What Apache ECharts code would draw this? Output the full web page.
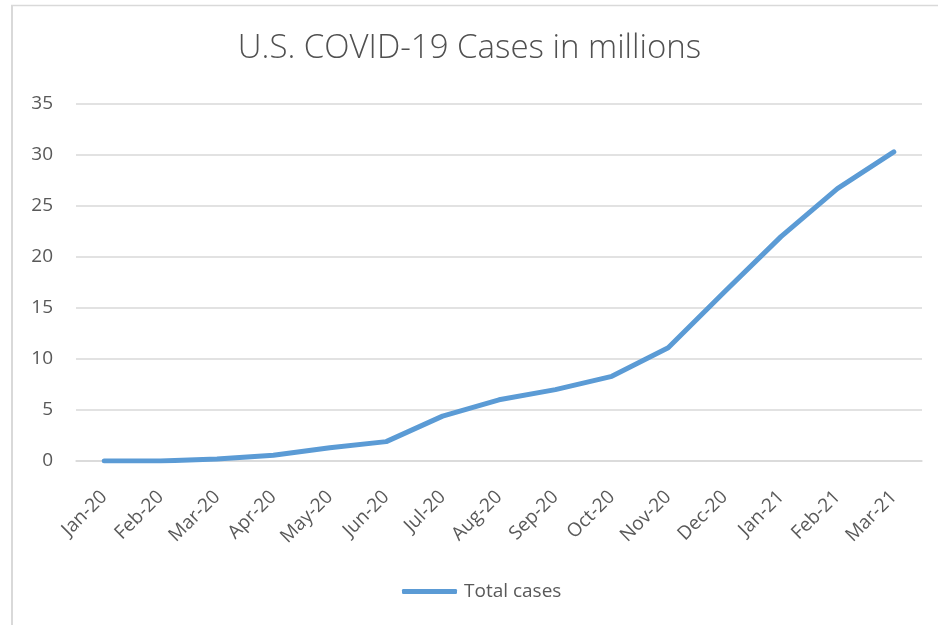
<!DOCTYPE html>
<html>
<head>
<meta charset="utf-8">
<script src="https://cdn.jsdelivr.net/npm/echarts@6/dist/echarts.min.js"></script>
<style>html,body{margin:0;padding:0;background:#fff;}#c{width:939px;height:625px;}</style>
</head>
<body>
<div id="c"></div>
<script>
const categories = ['Jan-20','Feb-20','Mar-20','Apr-20','May-20','Jun-20','Jul-20','Aug-20','Sep-20','Oct-20','Nov-20','Dec-20','Jan-21','Feb-21','Mar-21'];
const totalCases = [0, 0.01, 0.19, 0.56, 1.3, 1.9, 4.4, 6.0, 7.0, 8.3, 11.1, 16.6, 22.0, 26.7, 30.3];
const seriesName = 'Total cases';
const titleText = 'U.S. COVID-19 Cases in millions';

const chart = echarts.init(document.getElementById('c'));
const font = 'Open Sans';
chart.setOption({
  animation: false,
  backgroundColor: '#fff',
  title: {
    text: titleText, left: 'center', top: 27,
    textStyle: { fontFamily: font, fontSize: 33, fontWeight: 300, color: '#505050' }
  },
  graphic: [
    { type: 'line', shape: { x1: 12, y1: 5, x2: 12, y2: 625 }, style: { stroke: '#D9D9D9', lineWidth: 2 } },
    { type: 'line', shape: { x1: 11, y1: 5.5, x2: 938, y2: 5.5 }, style: { stroke: '#D9D9D9', lineWidth: 1.5 } }
  ],
  grid: { left: 76, right: 17, top: 104, bottom: 164 },
  legend: {
    data: [{ name: seriesName, icon: 'roundRect' }], left: 397, top: 577,
    itemWidth: 55, itemHeight: 5, itemGap: 5,
    itemStyle: { color: '#5B9BD5', borderWidth: 0 },
    textStyle: { fontFamily: font, fontSize: 19, color: '#595959', padding: [0,0,0,2] }
  },
  xAxis: {
    type: 'category', data: categories, boundaryGap: true,
    axisLine: { show: true, lineStyle: { color: '#D9D9D9', width: 1.5 } },
    axisTick: { show: false },
    axisLabel: { rotate: 45, margin: 33, fontFamily: font, fontSize: 19, color: '#595959', interval: 0 }
  },
  yAxis: {
    type: 'value', min: 0, max: 35, interval: 5,
    axisLine: { show: false }, axisTick: { show: false },
    axisLabel: { margin: 23, fontFamily: font, fontSize: 19, color: '#595959' },
    splitLine: { lineStyle: { color: '#D9D9D9', width: 1.5 } }
  },
  series: [{
    name: seriesName, type: 'line', data: totalCases,
    symbol: 'none', showSymbol: false,
    lineStyle: { color: '#5B9BD5', width: 5, cap: 'round', join: 'round' },
    itemStyle: { color: '#5B9BD5' }
  }]
});
</script>
</body>
</html>
